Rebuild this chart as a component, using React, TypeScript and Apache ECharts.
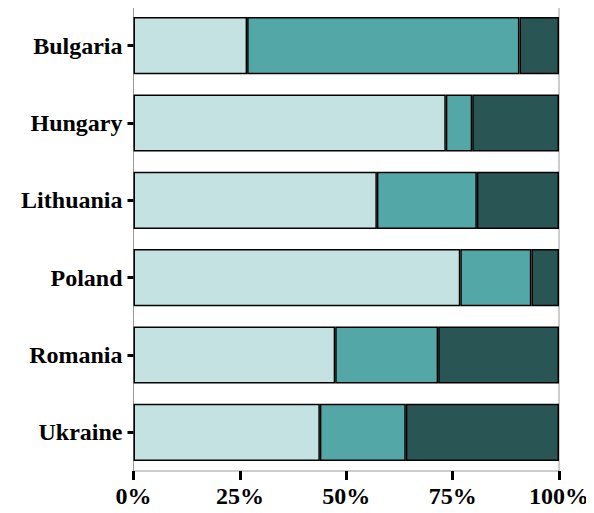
import React, { useEffect, useRef } from "react";
import * as echarts from "echarts";

const categories = ["Bulgaria", "Hungary", "Lithuania", "Poland", "Romania", "Ukraine"];
const seriesLight = [26.7, 73.4, 57.2, 76.8, 47.4, 43.8];
const seriesMid = [64.0, 6.2, 23.5, 16.7, 24.2, 20.2];
const seriesDark = [9.3, 20.4, 19.3, 6.5, 28.4, 36.0];
const xTicks = [0, 25, 50, 75, 100];

const colors = ["#C5E2E2", "#53A8A7", "#2A5555"];

export default function App() {
  const ref = useRef<HTMLDivElement>(null);
  useEffect(() => {
    if (!ref.current) return;
    const chart = echarts.init(ref.current, null, { renderer: "svg" });
    const mk = (name: string, data: number[], color: string) => ({
      name,
      type: "bar",
      stack: "total",
      data,
      barCategoryGap: "26%",
      itemStyle: { color, borderColor: "#000", borderWidth: 1.5 },
    });
    chart.setOption({
      animation: false,
      grid: {
        left: 133.5,
        right: 35,
        top: 7,
        bottom: 42,
        show: true,
        borderColor: "#9a9a9a",
        borderWidth: 1,
      },
      xAxis: {
        type: "value",
        min: xTicks[0],
        max: xTicks[xTicks.length - 1],
        interval: 25,
        axisLine: { show: false },
        axisTick: { show: true, length: 9, lineStyle: { color: "#000", width: 3 } },
        splitLine: { show: false },
        axisLabel: {
          formatter: "{value}%",
          fontFamily: "Liberation Serif",
          fontWeight: "bold",
          fontSize: 24,
          color: "#000",
          margin: 13,
        },
      },
      yAxis: {
        type: "category",
        data: categories,
        inverse: true,
        axisLine: { show: false },
        axisTick: { show: true, length: 6, alignWithLabel: true, lineStyle: { color: "#000", width: 3 } },
        axisLabel: {
          fontFamily: "Liberation Serif",
          fontWeight: "bold",
          fontSize: 24,
          color: "#000",
          margin: 11,
        },
      },
      series: [
        mk("Light", seriesLight, colors[0]),
        mk("Mid", seriesMid, colors[1]),
        mk("Dark", seriesDark, colors[2]),
      ],
    });
    return () => chart.dispose();
  }, []);
  return <div ref={ref} style={{ width: 594, height: 513, margin: -8 }} />;
}
